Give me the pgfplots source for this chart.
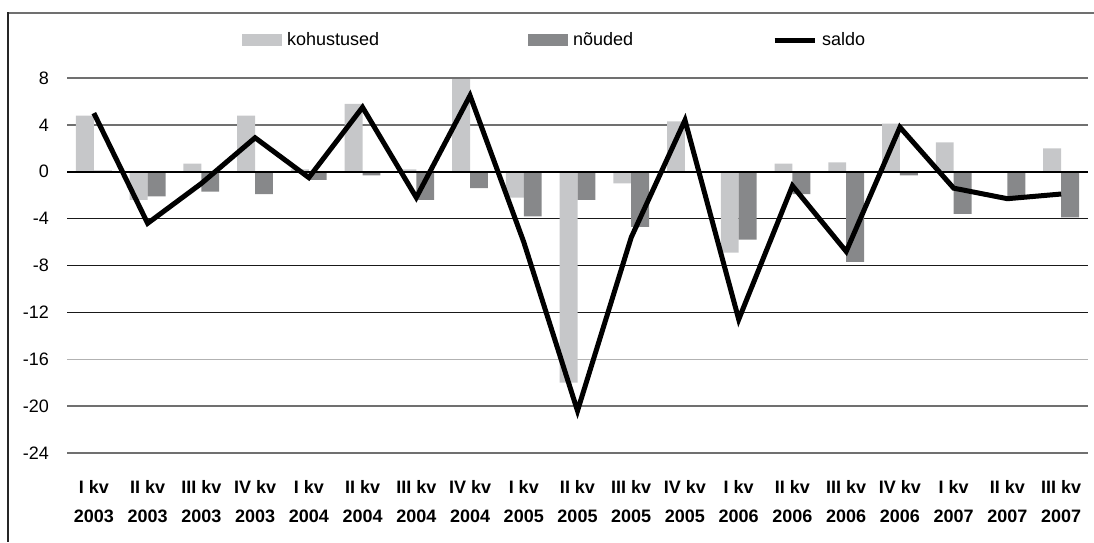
\documentclass[border=0pt]{standalone}
\usepackage{pgfplots}
\pgfplotsset{compat=1.18}
\usepackage{pgfplotstable}
\usepackage{fontspec}
\setmainfont{Liberation Sans}

\definecolor{kohust}{HTML}{C6C7C9}
\definecolor{noud}{HTML}{87888A}
\definecolor{gridmid}{HTML}{707070}

% kvartal, kohustused, nouded, saldo
\pgfplotstableread{
x koh noud saldo
0 4.8 0.1 5.0
1 -2.4 -2.1 -4.4
2 0.7 -1.7 -1.0
3 4.8 -1.9 2.9
4 0.2 -0.7 -0.5
5 5.8 -0.3 5.5
6 0.2 -2.4 -2.2
7 7.9 -1.4 6.5
8 -2.2 -3.8 -6.0
9 -18.0 -2.4 -20.4
10 -1.0 -4.7 -5.6
11 4.3 0.0 4.4
12 -6.9 -5.8 -12.6
13 0.7 -1.9 -1.2
14 0.8 -7.7 -6.8
15 4.1 -0.3 3.8
16 2.5 -3.6 -1.4
17 -0.1 -2.2 -2.3
18 2.0 -3.9 -1.9
}\data

\begin{document}
\begin{tikzpicture}[x=1pt,y=1pt]
\path[use as bounding box] (0,0) rectangle (1094,542);
\draw[line width=1.5pt, gridmid] (8,529) -- (1094,529);
\draw[line width=1.5pt, black!85] (8,529.75) -- (8,0);
\begin{axis}[
    at={(67pt,89pt)}, anchor=south west,
    scale only axis,
    width=1021pt, height=375pt,
    xmin=-0.5, xmax=18.5,
    ymin=-24, ymax=8,
    ytick={-24,-20,...,8},
    xtick={0,...,18},
    xticklabels={{I kv\\2003},{II kv\\2003},{III kv\\2003},{IV kv\\2003},
                 {I kv\\2004},{II kv\\2004},{III kv\\2004},{IV kv\\2004},
                 {I kv\\2005},{II kv\\2005},{III kv\\2005},{IV kv\\2005},
                 {I kv\\2006},{II kv\\2006},{III kv\\2006},{IV kv\\2006},
                 {I kv\\2007},{II kv\\2007},{III kv\\2007}},
    axis line style={draw=none},
    major tick length=0pt,
    /pgf/number format/assume math mode=true,
    yticklabel style={font=\fontsize{18}{21}\selectfont, inner sep=0pt, anchor=east, xshift=-18pt},
    xticklabel style={font=\bfseries\fontsize{18}{29.5}\selectfont, align=center, inner sep=0pt, anchor=north, yshift=-27pt},
    legend style={at={(axis description cs:0.1714,1.1013)}, anchor=west,
        draw=none, fill=none, inner sep=0pt, legend columns=3,
        font=\fontsize{18}{21}\selectfont,
        nodes={inner sep=0pt},
        /tikz/every odd column/.append style={column sep=5pt}},
    legend cell align=left,
]
% grid lines (under the bars)
\draw[line width=1.4pt, gridmid] (axis cs:-0.5,8) -- (axis cs:18.5,8);
\draw[line width=1.4pt, gridmid] (axis cs:-0.5,4) -- (axis cs:18.5,4);
\draw[line width=1.2pt, black!90] (axis cs:-0.5,-4) -- (axis cs:18.5,-4);
\draw[line width=1.2pt, black!90] (axis cs:-0.5,-8) -- (axis cs:18.5,-8);
\draw[line width=1.2pt, black!90] (axis cs:-0.5,-12) -- (axis cs:18.5,-12);
\draw[line width=1.2pt, black!30] (axis cs:-0.5,-16) -- (axis cs:18.5,-16);
\draw[line width=1.4pt, gridmid] (axis cs:-0.5,-20) -- (axis cs:18.5,-20);
\draw[line width=1.4pt, gridmid] (axis cs:-0.5,-24) -- (axis cs:18.5,-24);

\addplot[ybar, bar width=17.9pt, bar shift=-8.95pt, fill=kohust, draw=none,
    legend image code/.code={\fill[kohust] (0pt,-6pt) rectangle (40pt,6pt);}]
    table[x=x, y=koh] {\data};
\addlegendentry{\makebox[241pt][l]{kohustused}}
\addplot[ybar, bar width=17.9pt, bar shift=8.95pt, fill=noud, draw=none,
    legend image code/.code={\fill[noud] (0pt,-6pt) rectangle (40pt,6pt);}]
    table[x=x, y=noud] {\data};
\addlegendentry{\makebox[199pt][l]{nõuded}}
\draw[line width=1.5pt, black] (axis cs:-0.5,0) -- (axis cs:18.5,0);
\addplot[black, line width=5pt, sharp plot, no marks, line join=miter, miter limit=12,
    legend image code/.code={\draw[black, line width=5pt] (0pt,0pt) -- (40pt,0pt);}]
    table[x=x, y=saldo] {\data};
\addlegendentry{saldo}
\end{axis}
\end{tikzpicture}
\end{document}
